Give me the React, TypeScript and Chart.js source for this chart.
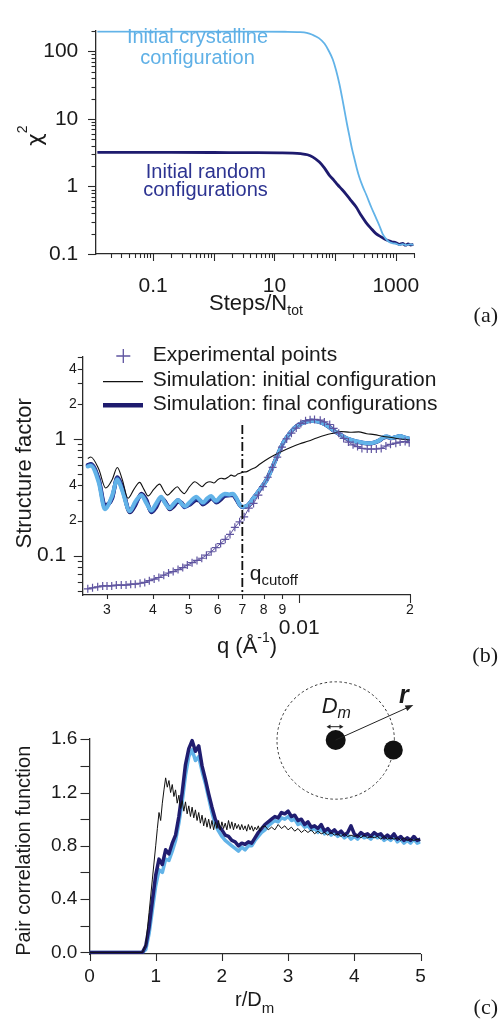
import React, { useEffect, useRef } from "react";
import { Chart, registerables } from "chart.js";

Chart.register(...registerables);

const SANS = "'Liberation Sans', Arial, Helvetica, sans-serif";
const SERIF = "'Liberation Serif', 'Times New Roman', serif";
const GREEK = "'DejaVu Sans', 'Liberation Sans', sans-serif";
const INK = "#1a1a1a";
const AXIS = "#2a2a2a";
const NAVY = "#1e1b6e";
const MIDBLUE = "#2e4fae";
const LIGHT = "#62b3e8";
const LIGHT_TEXT = "#5fb0e6";
const NAVY_TEXT = "#2c3391";
const EXP = "#5f54a0";

// ---------------- Panel (a): chi^2 vs Steps/N_tot ----------------
const stepsCrystal = [0.012, 0.05, 0.2, 1, 5, 15, 25.9, 34, 42.3, 54, 66.7, 78, 91.3, 104, 117.7, 130, 142, 157, 172, 190, 207.7, 228, 251, 285, 324, 400, 472, 540, 607, 700, 782, 900, 1007, 1150, 1300, 1500, 1700, 1950];
const chi2Crystal = [196, 196, 196, 196, 195.5, 195, 193, 188, 176, 157, 130.5, 103, 76.3, 52, 32.8, 21, 13.75, 8.4, 5.61, 3.6, 2.59, 1.85, 1.366, 1.0, 0.766, 0.48, 0.343, 0.26, 0.199, 0.165, 0.15, 0.144, 0.142, 0.136, 0.14, 0.135, 0.139, 0.137];
const stepsRandom = [0.012, 0.05, 0.2, 1, 5, 12, 20, 27, 35, 43, 55, 66, 80.6, 95, 110, 130, 152, 185, 221, 270, 324, 390, 472, 580, 692, 850, 1010, 1150, 1300, 1450, 1600, 1750, 1950];
const chi2Random = [3.2, 3.2, 3.19, 3.18, 3.17, 3.15, 3.12, 3.06, 2.95, 2.72, 2.3, 1.9, 1.46, 1.24, 1.06, 0.9, 0.766, 0.61, 0.5, 0.37, 0.292, 0.24, 0.2, 0.178, 0.162, 0.152, 0.146, 0.139, 0.143, 0.135, 0.141, 0.136, 0.138];
const aXMajor = [0.1, 1, 10, 100, 1000];
const aXMinor = [0.02, 0.03, 0.04, 0.05, 0.06, 0.07, 0.08, 0.09, 0.2, 0.3, 0.4, 0.5, 0.6, 0.7, 0.8, 0.9, 2, 3, 4, 5, 6, 7, 8, 9, 20, 30, 40, 50, 60, 70, 80, 90, 200, 300, 400, 500, 600, 700, 800, 900, 2000];
const aXLabelValues = [0.1, 10, 1000];
const aXLabelTexts = ["0.1", "10", "1000"];
const aYMajor = [0.1, 1, 10, 100];
const aYMinor = [0.2, 0.3, 0.4, 0.5, 0.6, 0.7, 0.8, 0.9, 2, 3, 4, 5, 6, 7, 8, 9, 20, 30, 40, 50, 60, 70, 80, 90, 200];
const aYLabelValues = [0.1, 1, 10, 100];
const aYLabelTexts = ["0.1", "1", "10", "100"];

// ---------------- Panel (b): structure factor vs q ----------------
const qExp = [0.00266, 0.00274, 0.00283, 0.00292, 0.003, 0.00309, 0.00318, 0.00328, 0.00338, 0.00348, 0.00358, 0.00369, 0.0038, 0.00391, 0.00403, 0.00415, 0.00428, 0.00441, 0.00454, 0.00468, 0.00482, 0.00496, 0.00511, 0.00527, 0.00543, 0.00559, 0.00576, 0.00593, 0.00611, 0.00629, 0.00648, 0.00668, 0.00688, 0.00708, 0.00729, 0.00751, 0.00774, 0.00797, 0.00821, 0.00846, 0.00871, 0.00897, 0.00924, 0.00952, 0.00981, 0.0101, 0.0104, 0.0107, 0.011, 0.0114, 0.0117, 0.0121, 0.0124, 0.0128, 0.0132, 0.0136, 0.014, 0.0144, 0.0148, 0.0153, 0.0157, 0.0162, 0.0167, 0.0172, 0.0177, 0.0183, 0.0188, 0.0194, 0.0199];
const sExp = [0.052, 0.053, 0.054, 0.055, 0.055, 0.055, 0.056, 0.056, 0.056, 0.057, 0.057, 0.058, 0.059, 0.061, 0.063, 0.065, 0.068, 0.071, 0.073, 0.076, 0.079, 0.083, 0.087, 0.091, 0.095, 0.101, 0.108, 0.117, 0.127, 0.138, 0.152, 0.175, 0.195, 0.215, 0.255, 0.28, 0.33, 0.39, 0.47, 0.57, 0.7, 0.85, 1.0, 1.12, 1.24, 1.36, 1.43, 1.46, 1.47, 1.45, 1.4, 1.33, 1.23, 1.12, 1.01, 0.94, 0.89, 0.86, 0.83, 0.82, 0.82, 0.82, 0.83, 0.87, 0.9, 0.92, 0.94, 0.95, 0.93];
const qInit = [0.00266, 0.00271, 0.00285, 0.002975, 0.0031, 0.0032, 0.0033, 0.00342, 0.00355, 0.00368, 0.00378, 0.00388, 0.00402, 0.00417, 0.00428, 0.00438, 0.00452, 0.00466, 0.00476, 0.00486, 0.00503, 0.0052, 0.00532, 0.00544, 0.00558, 0.00572, 0.00586, 0.00601, 0.00614, 0.00627, 0.0064, 0.00653, 0.00667, 0.0068, 0.00692, 0.00703, 0.0072, 0.0074, 0.0076, 0.00782, 0.0083, 0.00886, 0.0095, 0.01004, 0.0106, 0.01115, 0.0118, 0.01237, 0.013, 0.01374, 0.0145, 0.01525, 0.016, 0.01692, 0.0178, 0.01878, 0.0195, 0.02];
const sInit = [0.68, 0.7, 0.55, 0.38, 0.45, 0.57, 0.45, 0.31, 0.37, 0.425, 0.37, 0.325, 0.37, 0.41, 0.36, 0.33, 0.36, 0.39, 0.36, 0.34, 0.39, 0.43, 0.41, 0.39, 0.42, 0.43, 0.42, 0.45, 0.46, 0.455, 0.47, 0.49, 0.48, 0.5, 0.51, 0.52, 0.525, 0.55, 0.57, 0.61, 0.69, 0.77, 0.85, 0.91, 0.96, 1.02, 1.08, 1.12, 1.16, 1.14, 1.15, 1.11, 1.09, 1.05, 1.03, 1.0, 0.99, 0.98];
const qFin = [0.00266, 0.00271, 0.00285, 0.00296, 0.0031, 0.0032, 0.0033, 0.00346, 0.00358, 0.00372, 0.00384, 0.00396, 0.00408, 0.00421, 0.00432, 0.00444, 0.00456, 0.00468, 0.00478, 0.00488, 0.00505, 0.00525, 0.00536, 0.00547, 0.00562, 0.00576, 0.00586, 0.00595, 0.0061, 0.00627, 0.00645, 0.0066, 0.00675, 0.0069, 0.00704, 0.00725, 0.0075, 0.00782, 0.00815, 0.00845, 0.00877, 0.00905, 0.00943, 0.0097, 0.01004, 0.0104, 0.0108, 0.0112, 0.01162, 0.012, 0.01237, 0.0128, 0.01317, 0.0137, 0.01432, 0.0149, 0.01556, 0.0161, 0.01657, 0.0169, 0.01729, 0.0178, 0.0183, 0.01878, 0.0193, 0.0198];
const sFinLight = [0.58, 0.59, 0.42, 0.25, 0.33, 0.45, 0.36, 0.24, 0.29, 0.33, 0.28, 0.245, 0.28, 0.32, 0.28, 0.255, 0.28, 0.3, 0.28, 0.265, 0.29, 0.32, 0.3, 0.285, 0.31, 0.325, 0.305, 0.295, 0.32, 0.34, 0.335, 0.34, 0.31, 0.27, 0.262, 0.27, 0.31, 0.37, 0.445, 0.57, 0.75, 0.93, 1.12, 1.24, 1.34, 1.4, 1.43, 1.42, 1.36, 1.28, 1.19, 1.11, 1.05, 0.99, 0.95, 0.93, 0.92, 0.94, 0.98, 1.03, 1.05, 1.02, 1.04, 1.06, 1.03, 1.01];
const sFinMid = [0.59, 0.6, 0.44, 0.26, 0.32, 0.46, 0.37, 0.245, 0.28, 0.33, 0.29, 0.24, 0.27, 0.31, 0.285, 0.26, 0.275, 0.3, 0.28, 0.26, 0.28, 0.31, 0.3, 0.28, 0.3, 0.32, 0.3, 0.29, 0.31, 0.33, 0.33, 0.335, 0.305, 0.27, 0.26, 0.27, 0.31, 0.37, 0.445, 0.57, 0.75, 0.93, 1.12, 1.24, 1.34, 1.4, 1.43, 1.42, 1.36, 1.28, 1.19, 1.11, 1.05, 0.99, 0.95, 0.93, 0.92, 0.94, 0.98, 1.03, 1.05, 1.02, 1.04, 1.06, 1.03, 1.01];
const sFinNavy = [0.6, 0.61, 0.45, 0.27, 0.31, 0.47, 0.39, 0.235, 0.27, 0.34, 0.3, 0.235, 0.26, 0.31, 0.29, 0.25, 0.265, 0.29, 0.285, 0.265, 0.275, 0.3, 0.295, 0.275, 0.29, 0.31, 0.3, 0.285, 0.3, 0.325, 0.33, 0.33, 0.3, 0.27, 0.26, 0.27, 0.31, 0.37, 0.45, 0.575, 0.755, 0.935, 1.12, 1.245, 1.345, 1.405, 1.43, 1.415, 1.355, 1.275, 1.185, 1.105, 1.045, 0.985, 0.945, 0.925, 0.915, 0.935, 0.975, 1.02, 1.04, 1.015, 1.035, 1.055, 1.025, 1.005];
const Q_CUTOFF = 0.007;
const bXTicks = [0.003, 0.004, 0.005, 0.006, 0.007, 0.008, 0.009, 0.01, 0.02];
const bXLabels = ["3", "4", "5", "6", "7", "8", "9", "0.01", "2"];
const bXMajor = [0.01, 0.02];
const bXBig = [0.01];
const bYTicks = [0.05, 0.06, 0.07, 0.08, 0.09, 0.1, 0.2, 0.3, 0.4, 0.5, 0.6, 0.7, 0.8, 0.9, 1, 2, 3, 4, 5];
const bYLabels = ["", "", "", "", "", "0.1", "2", "", "4", "", "", "", "", "", "1", "2", "", "4", ""];
const bYMajor = [0.1, 1];

// ---------------- Panel (c): pair correlation function ----------------
const rVals = [0, 0.8, 0.85, 0.9, 0.95, 1.0, 1.05, 1.1, 1.15, 1.2, 1.25, 1.3, 1.35, 1.4, 1.45, 1.5, 1.55, 1.6, 1.65, 1.7, 1.75, 1.8, 1.85, 1.9, 1.95, 2.0, 2.05, 2.1, 2.15, 2.2, 2.25, 2.3, 2.35, 2.4, 2.45, 2.5, 2.55, 2.6, 2.65, 2.7, 2.75, 2.8, 2.85, 2.9, 2.95, 3.0, 3.05, 3.1, 3.15, 3.2, 3.25, 3.3, 3.35, 3.4, 3.45, 3.5, 3.55, 3.6, 3.65, 3.7, 3.75, 3.8, 3.85, 3.9, 3.95, 4.0, 4.05, 4.1, 4.15, 4.2, 4.25, 4.3, 4.35, 4.4, 4.45, 4.5, 4.55, 4.6, 4.65, 4.7, 4.75, 4.8, 4.85, 4.9, 4.95, 5.0];
const rInit = [0, 0.8, 0.85, 0.9, 0.95, 1.0, 1.025, 1.05, 1.075, 1.1, 1.125, 1.15, 1.175, 1.2, 1.225, 1.25, 1.275, 1.3, 1.325, 1.35, 1.375, 1.4, 1.425, 1.45, 1.475, 1.5, 1.525, 1.55, 1.575, 1.6, 1.625, 1.65, 1.675, 1.7, 1.725, 1.75, 1.775, 1.8, 1.825, 1.85, 1.875, 1.9, 1.925, 1.95, 1.975, 2.0, 2.025, 2.05, 2.075, 2.1, 2.125, 2.15, 2.175, 2.2, 2.225, 2.25, 2.275, 2.3, 2.325, 2.35, 2.375, 2.4, 2.425, 2.45, 2.475, 2.5, 2.525, 2.55, 2.575, 2.6, 2.65, 2.7, 2.75, 2.8, 2.85, 2.9, 2.95, 3.0, 3.05, 3.1, 3.15, 3.2, 3.25, 3.3, 3.35, 3.4, 3.45, 3.5, 3.55, 3.6, 3.65, 3.7, 3.75, 3.8, 3.85, 3.9, 3.95, 4.0, 4.05, 4.1, 4.15, 4.2, 4.25, 4.3, 4.35, 4.4, 4.45, 4.5, 4.55, 4.6, 4.65, 4.7, 4.75, 4.8, 4.85, 4.9, 4.95, 5.0];
const gInit = [0, 0, 0.06, 0.3, 0.55, 0.8, 0.93, 1.05, 0.99, 1.12, 1.22, 1.31, 1.24, 1.29, 1.2, 1.26, 1.17, 1.22, 1.12, 1.18, 1.08, 1.14, 1.06, 1.13, 1.04, 1.1, 1.02, 1.09, 1.01, 1.07, 0.99, 1.05, 0.97, 1.03, 0.95, 1.01, 0.94, 1.0, 0.93, 0.99, 0.92, 0.98, 0.93, 0.99, 0.92, 0.98, 0.93, 0.97, 0.92, 0.99, 0.93, 0.98, 0.92, 0.97, 0.93, 0.96, 0.92, 0.96, 0.92, 0.95, 0.91, 0.96, 0.92, 0.95, 0.91, 0.94, 0.92, 0.95, 0.91, 0.94, 0.95, 0.92, 0.94, 0.92, 0.96, 0.93, 0.95, 0.92, 0.94, 0.91, 0.93, 0.9, 0.92, 0.9, 0.92, 0.89, 0.91, 0.89, 0.9, 0.88, 0.9, 0.88, 0.89, 0.87, 0.89, 0.87, 0.88, 0.87, 0.88, 0.86, 0.88, 0.86, 0.87, 0.86, 0.87, 0.85, 0.87, 0.85, 0.86, 0.85, 0.86, 0.84, 0.86, 0.84, 0.85, 0.84, 0.85, 0.84];
const gFinNavy = [0, 0, 0.05, 0.19, 0.39, 0.58, 0.7, 0.66, 0.77, 0.74, 0.82, 0.88, 1.02, 1.2, 1.41, 1.53, 1.59, 1.51, 1.55, 1.4, 1.3, 1.19, 1.09, 1.0, 0.95, 0.92, 0.88, 0.87, 0.84, 0.83, 0.8, 0.82, 0.81, 0.83, 0.82, 0.86, 0.9, 0.93, 0.96, 0.98, 1.0, 1.02, 1.01, 1.05, 1.04, 1.06, 1.02, 1.03, 0.99, 1.0, 0.96, 0.98, 0.94, 0.95, 0.93, 0.96, 0.91, 0.93, 0.9, 0.92, 0.89, 0.91, 0.88, 0.9, 0.95, 0.89, 0.87, 0.9, 0.88, 0.89, 0.87, 0.9, 0.88, 0.89, 0.86, 0.88, 0.86, 0.89, 0.85, 0.87, 0.84, 0.86, 0.84, 0.87, 0.84, 0.85];
const gFinLight = [0, 0, 0.02, 0.14, 0.32, 0.5, 0.62, 0.6, 0.7, 0.69, 0.76, 0.84, 0.97, 1.13, 1.33, 1.47, 1.52, 1.44, 1.47, 1.36, 1.27, 1.16, 1.05, 0.96, 0.91, 0.87, 0.84, 0.82, 0.8, 0.78, 0.76, 0.79, 0.77, 0.8, 0.8, 0.84, 0.87, 0.9, 0.92, 0.95, 0.97, 0.99, 0.98, 1.01, 1.0, 1.02, 0.99, 1.0, 0.96, 0.97, 0.94, 0.95, 0.92, 0.93, 0.9, 0.93, 0.89, 0.91, 0.88, 0.9, 0.87, 0.89, 0.86, 0.88, 0.85, 0.87, 0.85, 0.88, 0.86, 0.87, 0.85, 0.88, 0.86, 0.87, 0.84, 0.86, 0.84, 0.87, 0.83, 0.85, 0.82, 0.84, 0.82, 0.85, 0.82, 0.83];
const cXTicks = [0, 1, 2, 3, 4, 5];
const cXLabels = ["0", "1", "2", "3", "4", "5"];
const cYTicks = [0, 0.2, 0.4, 0.6, 0.8, 1.0, 1.2, 1.4, 1.6];
const cYLabels = ["0.0", "", "0.4", "", "0.8", "", "1.2", "", "1.6"];

// ---------------- helpers ----------------
const pts = (xs: number[], ys: number[]) => xs.map((x, i) => ({ x, y: ys[i] }));
const same = (a: number, b: number) => Math.abs(a - b) <= 1e-9 + 1e-6 * Math.abs(b);
const inList = (list: number[], v: number) => list.some((t) => same(t, v));
const findIdx = (list: number[], v: number) => list.findIndex((t) => same(t, v));
const mkTicks = (all: number[], major: number[]) =>
  [...all].sort((a, b) => a - b).map((v) => ({ value: v, major: inList(major, v) }));

type Run = { t: string; size: number; dy?: number; font?: string; style?: string };
function drawRuns(ctx: CanvasRenderingContext2D, items: Run[], x: number, y: number, align: "left" | "center" | "right", color: string) {
  ctx.save();
  ctx.fillStyle = color;
  ctx.textBaseline = "alphabetic";
  ctx.textAlign = "left";
  const fonts = items.map((r) => `${r.style ? r.style + " " : ""}${r.size}px ${r.font || SANS}`);
  const widths = items.map((r, i) => {
    ctx.font = fonts[i];
    return ctx.measureText(r.t).width;
  });
  const total = widths.reduce((a, b) => a + b, 0);
  let cx = align === "left" ? x : align === "center" ? x - total / 2 : x - total;
  items.forEach((r, i) => {
    ctx.font = fonts[i];
    ctx.fillText(r.t, cx, y + (r.dy || 0));
    cx += widths[i];
  });
  ctx.restore();
}

type TickCfg = { majorLen: number; minorLen: number };
function tickMarks(cfg: { x: TickCfg; y: TickCfg }) {
  return {
    id: "tickMarks",
    afterDraw(chart: any) {
      const ctx: CanvasRenderingContext2D = chart.ctx;
      const area = chart.chartArea;
      ctx.save();
      ctx.strokeStyle = AXIS;
      ctx.lineWidth = 1.1;
      const xs = chart.scales.x;
      for (const t of xs.ticks) {
        const p = Math.round(xs.getPixelForValue(t.value)) + 0.5;
        const len = t.major ? cfg.x.majorLen : cfg.x.minorLen;
        ctx.beginPath();
        ctx.moveTo(p, area.bottom);
        ctx.lineTo(p, area.bottom + len);
        ctx.stroke();
      }
      const ys = chart.scales.y;
      for (const t of ys.ticks) {
        const p = Math.round(ys.getPixelForValue(t.value)) + 0.5;
        const len = t.major ? cfg.y.majorLen : cfg.y.minorLen;
        ctx.beginPath();
        ctx.moveTo(area.left, p);
        ctx.lineTo(area.left - len, p);
        ctx.stroke();
      }
      ctx.restore();
    },
  };
}

function textLayer(draw: (ctx: CanvasRenderingContext2D, chart: any) => void) {
  return {
    id: "textLayer",
    afterDraw(chart: any) {
      const ctx = chart.ctx as CanvasRenderingContext2D;
      ctx.save();
      draw(ctx, chart);
      ctx.restore();
    },
  };
}

const border = { display: true, color: AXIS, width: 1.3 };
const noGrid = { display: false, drawTicks: false };
const baseOptions = {
  responsive: false,
  animation: false as const,
  devicePixelRatio: 1,
  events: [] as any[],
  plugins: { legend: { display: false }, tooltip: { enabled: false } },
};

// ---------------- chart configs ----------------
function configA(): any {
  return {
    type: "line",
    data: {
      datasets: [
        { label: "Initial crystalline configuration", data: pts(stepsCrystal, chi2Crystal), borderColor: LIGHT, borderWidth: 1.8, pointRadius: 0, cubicInterpolationMode: "monotone" },
        { label: "Initial random configurations", data: pts(stepsRandom, chi2Random), borderColor: NAVY, borderWidth: 2.8, pointRadius: 0, cubicInterpolationMode: "monotone" },
      ],
    },
    options: {
      ...baseOptions,
      layout: { autoPadding: false, padding: { left: 0, top: 16, right: 86, bottom: 0 } },
      scales: {
        x: {
          type: "logarithmic", min: 0.0114, max: 2000, grid: noGrid, border,
          ticks: { autoSkip: false, maxRotation: 0, minRotation: 0, padding: 19.4, color: INK, font: { family: SANS, size: 21 },
            callback: (v: number) => { const i = findIdx(aXLabelValues, v); return i >= 0 ? aXLabelTexts[i] : ""; } },
          afterBuildTicks: (s: any) => { s.ticks = mkTicks([...aXMajor, ...aXMinor], aXMajor); },
          afterFit: (s: any) => { s.height = 76; },
        },
        y: {
          type: "logarithmic", min: 0.1, max: 205, grid: noGrid, border,
          ticks: { autoSkip: false, padding: 17.7, color: INK, font: { family: SANS, size: 21 },
            callback: (v: number) => { const i = findIdx(aYLabelValues, v); return i >= 0 ? aYLabelTexts[i] : ""; } },
          afterBuildTicks: (s: any) => { s.ticks = mkTicks([...aYMajor, ...aYMinor], aYMajor); },
          afterFit: (s: any) => { s.width = 96; },
        },
      },
    },
    plugins: [
      tickMarks({ x: { majorLen: 7, minorLen: 4 }, y: { majorLen: 8, minorLen: 4.5 } }),
      textLayer((ctx) => {
        drawRuns(ctx, [{ t: "Initial crystalline", size: 20 }], 197.5, 42.5, "center", LIGHT_TEXT);
        drawRuns(ctx, [{ t: "configuration", size: 20 }], 197.5, 64.1, "center", LIGHT_TEXT);
        drawRuns(ctx, [{ t: "Initial random", size: 20 }], 205.8, 178.3, "center", NAVY_TEXT);
        drawRuns(ctx, [{ t: "configurations", size: 20 }], 205.5, 195.8, "center", NAVY_TEXT);
        ctx.save();
        ctx.translate(42.3, 146);
        ctx.rotate(-Math.PI / 2);
        drawRuns(ctx, [{ t: "χ", size: 22, font: GREEK }, { t: "2", size: 14, dy: -15.3 }], 0, 0, "left", INK);
        ctx.restore();
        drawRuns(ctx, [{ t: "Steps/N", size: 22 }, { t: "tot", size: 14, dy: 5 }], 209, 310, "left", INK);
        drawRuns(ctx, [{ t: "(a)", size: 22, font: SERIF }], 498, 322, "right", INK);
      }),
    ],
  };
}

function configB(): any {
  return {
    type: "line",
    data: {
      datasets: [
        { label: "Experimental points", data: pts(qExp, sExp), borderColor: EXP, borderWidth: 1, pointStyle: "cross", pointRadius: 4, pointBorderColor: EXP, pointBorderWidth: 1.2 },
        { label: "Simulation: initial configuration", data: pts(qInit, sInit), borderColor: "#111111", borderWidth: 1.1, pointRadius: 0, cubicInterpolationMode: "monotone" },
        { label: "Simulation: final configuration (run 3)", data: pts(qFin, sFinLight), borderColor: LIGHT, borderWidth: 4, pointRadius: 0, cubicInterpolationMode: "monotone", borderCapStyle: "round", borderJoinStyle: "round" },
        { label: "Simulation: final configuration (run 2)", data: pts(qFin, sFinMid), borderColor: MIDBLUE, borderWidth: 4, pointRadius: 0, cubicInterpolationMode: "monotone", borderCapStyle: "round", borderJoinStyle: "round" },
        { label: "Simulation: final configurations", data: pts(qFin, sFinNavy), borderColor: NAVY, borderWidth: 4, pointRadius: 0, cubicInterpolationMode: "monotone", borderCapStyle: "round", borderJoinStyle: "round" },
      ],
    },
    options: {
      ...baseOptions,
      layout: { autoPadding: false, padding: { left: 0, top: 26.7, right: 90, bottom: 0 } },
      scales: {
        x: {
          type: "logarithmic", min: 0.00257, max: 0.02, grid: noGrid, border,
          ticks: {
            autoSkip: false, maxRotation: 0, minRotation: 0, padding: 6.6, color: INK,
            font: (c: any) => (c.tick && inList(bXBig, c.tick.value) ? { family: SANS, size: 21, lineHeight: 0.85 } : { family: SANS, size: 14, lineHeight: 1.2 }),
            callback: (v: number) => { const i = findIdx(bXTicks, v); if (i < 0) return ""; return inList(bXBig, v) ? ["", bXLabels[i]] : bXLabels[i]; },
          },
          afterBuildTicks: (s: any) => { s.ticks = mkTicks(bXTicks, bXMajor); },
          afterFit: (s: any) => { s.height = 80; },
        },
        y: {
          type: "logarithmic", min: 0.046, max: 5.07, grid: noGrid, border,
          ticks: {
            autoSkip: false, padding: 5.6, color: INK,
            font: (c: any) => (c.tick && inList(bYMajor, c.tick.value) ? { family: SANS, size: 21 } : { family: SANS, size: 14 }),
            callback: (v: number) => { const i = findIdx(bYTicks, v); if (i < 0) return ""; return inList(bYMajor, v) ? bYLabels[i] + "\u2002" : bYLabels[i]; },
          },
          afterBuildTicks: (s: any) => { s.ticks = mkTicks(bYTicks, bYMajor); },
          afterFit: (s: any) => { s.width = 82.3; },
        },
      },
    },
    plugins: [
      tickMarks({ x: { majorLen: 8, minorLen: 4 }, y: { majorLen: 8.5, minorLen: 4.5 } }),
      textLayer((ctx, chart) => {
        const ds = chart.data.datasets;
        const area = chart.chartArea;
        // legend
        ctx.strokeStyle = ds[0].pointBorderColor;
        ctx.lineWidth = 1.3;
        ctx.beginPath();
        ctx.moveTo(116.3, 26); ctx.lineTo(130.3, 26);
        ctx.moveTo(123.3, 19); ctx.lineTo(123.3, 33);
        ctx.stroke();
        drawRuns(ctx, [{ t: ds[0].label, size: 21 }], 152.7, 31.3, "left", INK);
        ctx.strokeStyle = ds[1].borderColor;
        ctx.lineWidth = 1.2;
        ctx.beginPath(); ctx.moveTo(103, 51.7); ctx.lineTo(143, 51.7); ctx.stroke();
        drawRuns(ctx, [{ t: ds[1].label, size: 21 }], 152.7, 56.3, "left", INK);
        ctx.strokeStyle = ds[4].borderColor;
        ctx.lineWidth = 4.5;
        ctx.beginPath(); ctx.moveTo(103, 75.3); ctx.lineTo(143, 75.3); ctx.stroke();
        drawRuns(ctx, [{ t: ds[4].label, size: 21 }], 152.7, 79.6, "left", INK);
        // q cutoff line
        const px = chart.scales.x.getPixelForValue(Q_CUTOFF);
        ctx.strokeStyle = "#111";
        ctx.lineWidth = 1.8;
        ctx.setLineDash([9, 3, 2, 3]);
        ctx.beginPath(); ctx.moveTo(px, 95); ctx.lineTo(px, area.bottom); ctx.stroke();
        ctx.setLineDash([]);
        drawRuns(ctx, [{ t: "q", size: 21 }, { t: "cutoff", size: 15, dy: 5.4 }], px + 7.4, 249.6, "left", INK);
        // axis titles
        drawRuns(ctx, [{ t: "q (Å", size: 22 }, { t: "-1", size: 14, dy: -11.3 }, { t: ")", size: 22 }], 217, 323, "left", INK);
        ctx.save();
        ctx.translate(31, 143.3);
        ctx.rotate(-Math.PI / 2);
        drawRuns(ctx, [{ t: "Structure factor", size: 22 }], 0, 0, "center", INK);
        ctx.restore();
        drawRuns(ctx, [{ t: "(b)", size: 22, font: SERIF }], 498, 332, "right", INK);
      }),
    ],
  };
}

function configC(): any {
  return {
    type: "line",
    data: {
      datasets: [
        { label: "Initial configuration", data: pts(rInit, gInit), borderColor: "#111111", borderWidth: 1, pointRadius: 0 },
        { label: "Final configuration 1", data: pts(rVals, gFinNavy), borderColor: "#201d70", borderWidth: 3.5, pointRadius: 0, borderJoinStyle: "round" },
        { label: "Final configuration 2", data: pts(rVals, gFinLight), borderColor: LIGHT, borderWidth: 3.5, pointRadius: 0, borderJoinStyle: "round" },
      ],
    },
    options: {
      ...baseOptions,
      layout: { autoPadding: false, padding: { left: 0, top: 63.3, right: 79.5, bottom: 0 } },
      scales: {
        x: {
          type: "linear", min: 0, max: 5, grid: noGrid, border,
          ticks: { autoSkip: false, maxRotation: 0, minRotation: 0, padding: 11.3, color: INK, font: { family: SANS, size: 19 },
            callback: (v: number) => { const i = findIdx(cXTicks, v); return i >= 0 ? cXLabels[i] : ""; } },
          afterBuildTicks: (s: any) => { s.ticks = mkTicks(cXTicks, cXTicks); },
          afterFit: (s: any) => { s.height = 65; },
        },
        y: {
          type: "linear", min: -0.012, max: 1.607, grid: noGrid, border,
          ticks: { autoSkip: false, padding: 12.2, color: INK, font: { family: SANS, size: 19 },
            callback: (v: number) => { const i = findIdx(cYTicks, v); return i >= 0 ? cYLabels[i] : ""; } },
          afterBuildTicks: (s: any) => { s.ticks = mkTicks(cYTicks, cYTicks); },
          afterFit: (s: any) => { s.width = 89.5; },
        },
      },
    },
    plugins: [
      tickMarks({ x: { majorLen: 7, minorLen: 7 }, y: { majorLen: 9, minorLen: 9 } }),
      textLayer((ctx) => {
        ctx.save();
        ctx.translate(30, 175.8);
        ctx.rotate(-Math.PI / 2);
        drawRuns(ctx, [{ t: "Pair correlation function", size: 20 }], 0, 0, "center", INK);
        ctx.restore();
        drawRuns(ctx, [{ t: "r/D", size: 20 }, { t: "m", size: 15, dy: 7 }], 235, 331, "left", INK);
        drawRuns(ctx, [{ t: "(c)", size: 22, font: SERIF }], 498, 339, "right", INK);
        // inset sketch
        ctx.strokeStyle = "#333";
        ctx.lineWidth = 1;
        ctx.setLineDash([2.5, 2.5]);
        ctx.beginPath();
        ctx.arc(335.7, 65.5, 58.7, 0, Math.PI * 2);
        ctx.stroke();
        ctx.setLineDash([]);
        ctx.fillStyle = "#111";
        ctx.beginPath(); ctx.arc(335.7, 65, 10, 0, Math.PI * 2); ctx.fill();
        ctx.beginPath(); ctx.arc(393.3, 75, 9.5, 0, Math.PI * 2); ctx.fill();
        // r arrow
        const x0 = 335.7, y0 = 65, x1 = 413.3, y1 = 30;
        const ang = Math.atan2(y1 - y0, x1 - x0);
        ctx.strokeStyle = "#222";
        ctx.lineWidth = 1;
        ctx.beginPath(); ctx.moveTo(x0, y0); ctx.lineTo(x1 - 5 * Math.cos(ang), y1 - 5 * Math.sin(ang)); ctx.stroke();
        ctx.fillStyle = "#222";
        ctx.beginPath();
        ctx.moveTo(x1, y1);
        ctx.lineTo(x1 - 8 * Math.cos(ang) + 3 * Math.sin(ang), y1 - 8 * Math.sin(ang) - 3 * Math.cos(ang));
        ctx.lineTo(x1 - 8 * Math.cos(ang) - 3 * Math.sin(ang), y1 - 8 * Math.sin(ang) + 3 * Math.cos(ang));
        ctx.closePath();
        ctx.fill();
        // D_m double arrow
        ctx.beginPath(); ctx.moveTo(328.5, 51.7); ctx.lineTo(341.5, 51.7); ctx.stroke();
        ctx.beginPath();
        ctx.moveTo(326.5, 51.7); ctx.lineTo(330.5, 49.5); ctx.lineTo(330.5, 53.9); ctx.closePath();
        ctx.moveTo(343.5, 51.7); ctx.lineTo(339.5, 49.5); ctx.lineTo(339.5, 53.9); ctx.closePath();
        ctx.fill();
        drawRuns(ctx, [{ t: "D", size: 22, style: "italic" }, { t: "m", size: 16, style: "italic", dy: 5.3 }], 321.7, 38, "left", INK);
        drawRuns(ctx, [{ t: "r", size: 25, style: "italic bold" }], 399, 28, "left", INK);
      }),
    ],
  };
}

function Panel({ top, height, build }: { top: number; height: number; build: () => any }) {
  const ref = useRef<HTMLCanvasElement>(null);
  useEffect(() => {
    if (!ref.current) return;
    const chart = new Chart(ref.current, build());
    return () => chart.destroy();
  }, []);
  return (
    <canvas
      ref={ref}
      width={500}
      height={height}
      style={{ position: "absolute", left: 0, top, width: 500, height, display: "block" }}
    />
  );
}

export default function App() {
  return (
    <div style={{ position: "absolute", left: 0, top: 0, width: 500, height: 1019, background: "#ffffff", overflow: "hidden" }}>
      <Panel top={0} height={330} build={configA} />
      <Panel top={330} height={345} build={configB} />
      <Panel top={675} height={344} build={configC} />
    </div>
  );
}
